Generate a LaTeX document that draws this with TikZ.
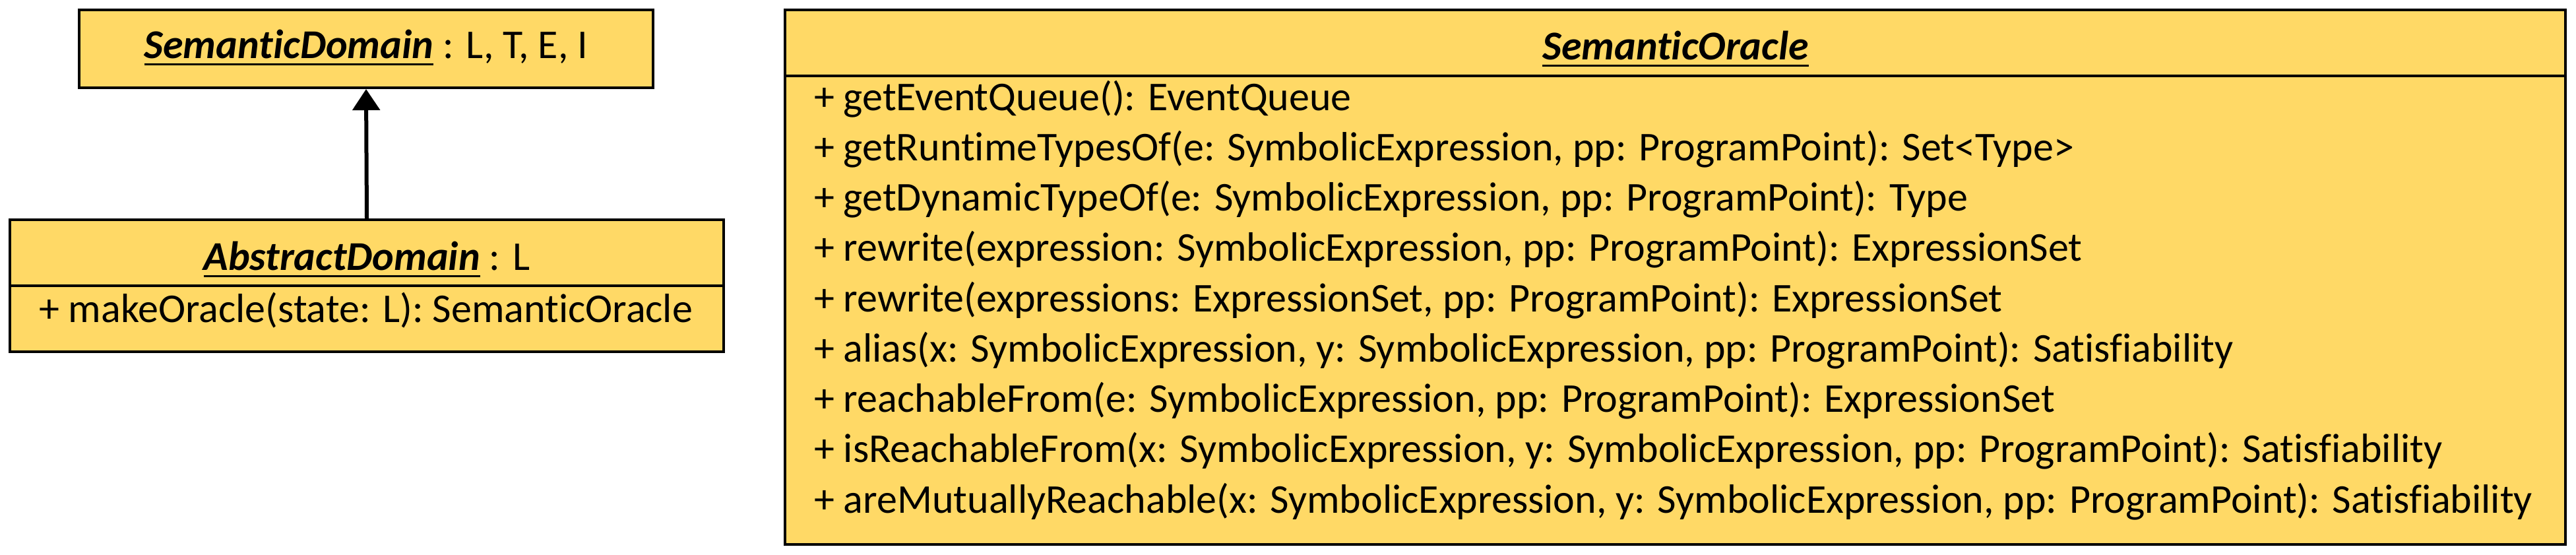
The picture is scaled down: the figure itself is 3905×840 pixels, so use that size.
\documentclass[tikz,border=0pt]{standalone}
\usepackage{fontspec}
\setmainfont{Carlito}[Ligatures=NoCommon]
\usetikzlibrary{arrows.meta}

\definecolor{umlfill}{HTML}{FFD966}
\newcommand{\clsname}[1]{\setbox0\hbox{\bfseries\itshape #1}\rlap{\rule[-2.2pt]{\wd0}{0.6pt}}\box0\relax}

\tikzset{
  umlbox/.style={draw=black, fill=umlfill, line width=0.8pt, inner sep=0pt},
  umltitle/.style={anchor=base, inner sep=0pt, font=\fontsize{12.4}{14}\selectfont},
  umlop/.style={anchor=base west, inner sep=0pt, font=\fontsize{12.4}{14}\selectfont},
}

\begin{document}
\begin{tikzpicture}[x=0.2pt, y=-0.2pt]
\useasboundingbox (0,0) rectangle (3905,840);

% SemanticDomain
\node[umlbox, minimum width=174pt, minimum height=23.6pt] (sdom) at (555,74) {};
\node[umltitle] (sdomname) at (555,88) {\clsname{SemanticDomain} : L, T, E, I};

% AbstractDomain
\node[umlbox, minimum width=216.4pt, minimum height=20pt] (adom) at (556,383) {};
\node[umlbox, minimum width=216.4pt, minimum height=20pt] (adomops) at (556,483) {};
\node[umltitle] (adomname) at (556,409) {\clsname{AbstractDomain} : L};
\node[umlop] (adomop) at (58,488) {+ makeOracle(state: L): SemanticOracle};

\draw[line width=1.2pt, -{Triangle[width=8.2pt, length=6.4pt]}] (adom.north) -- (sdom.south);

% SemanticOracle
\node[umlbox, minimum width=539.8pt, minimum height=20pt] (oracle) at (2539.5,65) {};
\node[umlbox, minimum width=539.8pt, minimum height=142pt] (oracleops) at (2539.5,470) {};
\node[umltitle] (oraclename) at (2540,90) {\clsname{SemanticOracle}};
\foreach \op [count=\i from 0] in {
  {+ getEventQueue(): EventQueue},
  {+ getRuntimeTypesOf(e: SymbolicExpression, pp: ProgramPoint): Set<Type>},
  {+ getDynamicTypeOf(e: SymbolicExpression, pp: ProgramPoint): Type},
  {+ rewrite(expression: SymbolicExpression, pp: ProgramPoint): ExpressionSet},
  {+ rewrite(expressions: ExpressionSet, pp: ProgramPoint): ExpressionSet},
  {+ alias(x: SymbolicExpression, y: SymbolicExpression, pp: ProgramPoint): Satisfiability},
  {+ reachableFrom(e: SymbolicExpression, pp: ProgramPoint): ExpressionSet},
  {+ isReachableFrom(x: SymbolicExpression, y: SymbolicExpression, pp: ProgramPoint): Satisfiability},
  {+ areMutuallyReachable(x: SymbolicExpression, y: SymbolicExpression, pp: ProgramPoint): Satisfiability}}
  \node[umlop] (op\i) at (1233,167+76.25*\i) {\op};
\end{tikzpicture}
\end{document}
